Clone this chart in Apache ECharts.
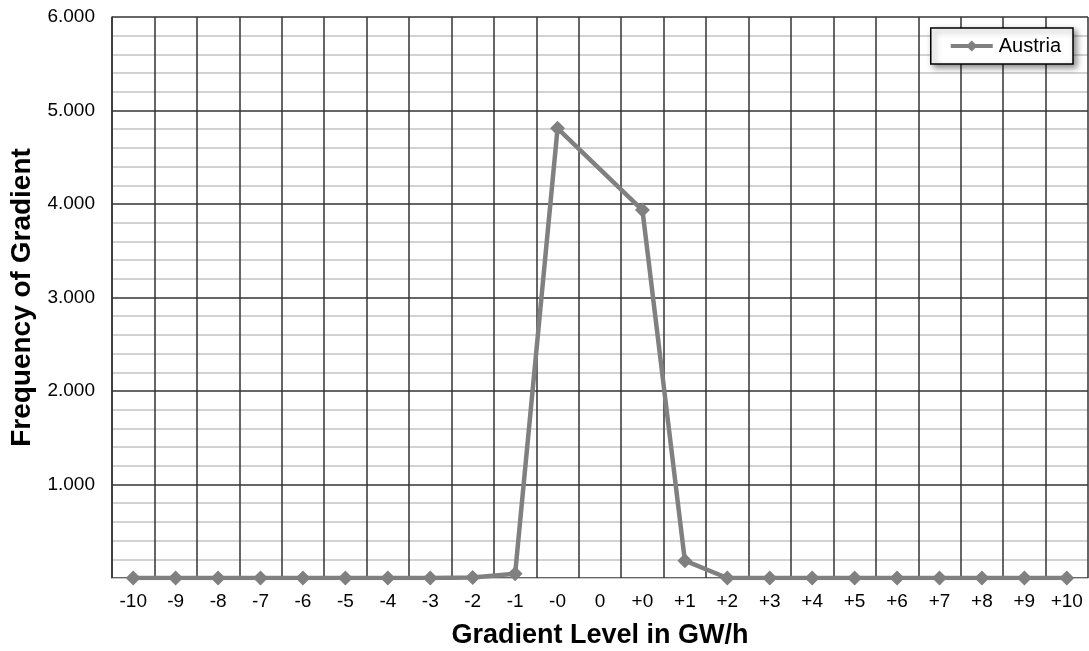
<!DOCTYPE html>
<html>
<head>
<meta charset="utf-8">
<script src="https://cdn.jsdelivr.net/npm/echarts@6/dist/echarts.min.js"></script>
<style>
  html, body { margin: 0; padding: 0; background: #ffffff; }
  #chart { width: 1089px; height: 651px; }
</style>
</head>
<body>
<div id="chart"></div>
<script>
// Gradient levels (GW/h) on the category axis
const gradientLevels = ['-10', '-9', '-8', '-7', '-6', '-5', '-4', '-3', '-2', '-1',
  '-0', '0', '+0', '+1', '+2', '+3', '+4', '+5', '+6', '+7', '+8', '+9', '+10'];

// Frequency of each gradient level for Austria ("0" has no value)
const austriaFrequency = [0, 0, 0, 0, 0, 0, 0, 0, 5, 45,
  4810, null, 3935, 185, 0, 0, 0, 0, 0, 0, 0, 0, 0];

// Value axis tick settings
const yMin = 0;
const yMax = 6000;
const yInterval = 1000;

const FONT = '"Liberation Sans", Arial, sans-serif';

// German-style thousands separator, blank at zero
function formatThousands(v) {
  if (v === 0) return '';
  return (v / 1000).toFixed(3);
}

const chart = echarts.init(document.getElementById('chart'), null, { renderer: 'canvas' });

chart.setOption({
  animation: false,
  backgroundColor: '#ffffff',
  grid: { left: 112, right: 1, top: 17, bottom: 73, containLabel: false, outerBoundsMode: 'none' },
  legend: {
    data: ['Austria'],
    right: 16,
    top: 28,
    orient: 'horizontal',
    itemWidth: 42,
    itemHeight: 14,
    itemGap: 2,
    padding: [8, 12, 8, 18],
    backgroundColor: '#ffffff',
    borderColor: '#000000',
    borderWidth: 1.5,
    borderRadius: 0,
    shadowBlur: 6,
    shadowColor: 'rgba(0,0,0,0.45)',
    shadowOffsetX: 3,
    shadowOffsetY: 3,
    lineStyle: { width: 4 },
    textStyle: { fontFamily: FONT, fontSize: 20, color: '#000000', padding: [0, 0, 0, 1] }
  },
  xAxis: {
    type: 'category',
    data: gradientLevels,
    boundaryGap: true,
    name: 'Gradient Level in GW/h',
    nameLocation: 'middle',
    nameGap: 44,
    nameTextStyle: { fontFamily: FONT, fontSize: 27, fontWeight: 'bold', color: '#000000' },
    axisLine: { show: true, lineStyle: { color: '#c8c8c8', width: 1 } },
    axisTick: { show: false },
    axisLabel: { fontFamily: FONT, fontSize: 19, color: '#000000', margin: 14, interval: 0 },
    splitLine: { show: true, interval: 0, lineStyle: { color: '#333333', width: 1.5 } }
  },
  yAxis: {
    type: 'value',
    min: yMin,
    max: yMax,
    interval: yInterval,
    name: 'Frequency of Gradient',
    nameLocation: 'middle',
    nameGap: 76,
    nameRotate: 90,
    nameTextStyle: { fontFamily: FONT, fontSize: 28, fontWeight: 'bold', color: '#000000' },
    axisLine: { show: true, lineStyle: { color: '#333333', width: 1.5 } },
    axisTick: { show: false },
    axisLabel: { fontFamily: FONT, fontSize: 19, color: '#000000', margin: 17, formatter: formatThousands },
    splitLine: { show: true, lineStyle: { color: '#333333', width: 1.5 } },
    minorTick: { show: false, splitNumber: 5 },
    minorSplitLine: { show: true, lineStyle: { color: '#c4c4c4', width: 1.5 } }
  },
  series: [{
    name: 'Austria',
    type: 'line',
    data: austriaFrequency,
    connectNulls: true,
    symbol: 'diamond',
    symbolSize: 15,
    showAllSymbol: true,
    lineStyle: { color: '#808080', width: 4.5 },
    itemStyle: { color: '#808080' },
    z: 3
  }]
});
</script>
</body>
</html>
